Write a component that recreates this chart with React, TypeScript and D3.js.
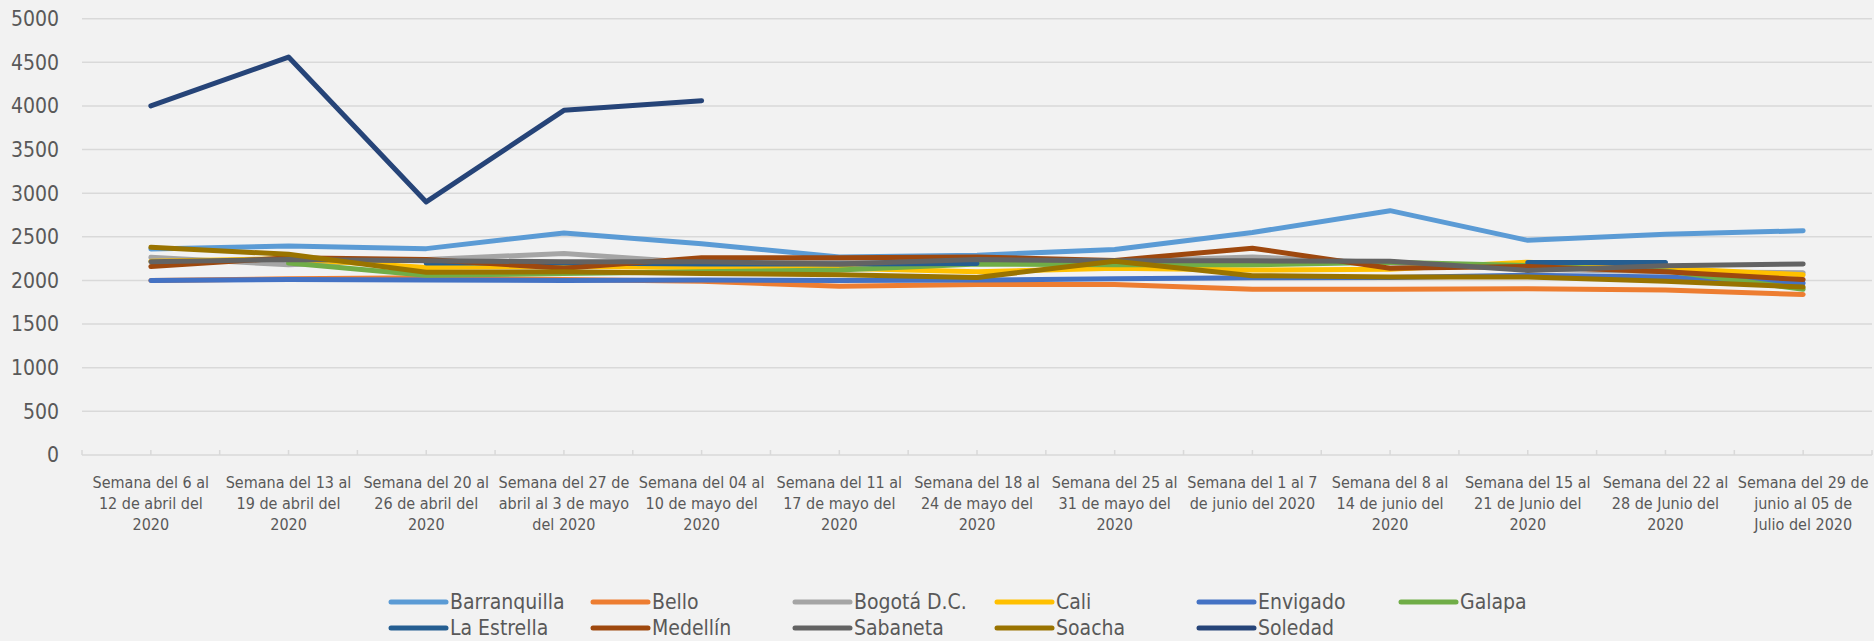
import { useEffect, useRef } from "react";
import * as d3 from "d3";

// week labels, "\n" marks the line breaks used under the axis
const weeks = [
  "Semana del 6 al\n12 de abril del\n2020",
  "Semana del 13 al\n19 de abril del\n2020",
  "Semana del 20 al\n26 de abril del\n2020",
  "Semana del 27 de\nabril al 3 de mayo\ndel 2020",
  "Semana del 04 al\n10 de mayo del\n2020",
  "Semana del 11 al\n17 de mayo del\n2020",
  "Semana del 18 al\n24 de mayo del\n2020",
  "Semana del 25 al\n31 de mayo del\n2020",
  "Semana del 1 al 7\nde junio del 2020",
  "Semana del 8 al\n14 de junio del\n2020",
  "Semana del 15 al\n21 de Junio del\n2020",
  "Semana del 22 al\n28 de Junio del\n2020",
  "Semana del 29 de\njunio al 05 de\nJulio del 2020",
];

const yTicks = [0, 500, 1000, 1500, 2000, 2500, 3000, 3500, 4000, 4500, 5000];

const barranquilla = [2360, 2395, 2365, 2545, 2420, 2270, 2290, 2355, 2550, 2800, 2460, 2530, 2570];
const bello = [2000, 2020, 2030, 2010, 1990, 1935, 1955, 1955, 1900, 1900, 1905, 1890, 1840];
const bogota = [2265, 2180, 2240, 2310, 2200, 2210, 2230, 2220, 2270, 2200, 2130, 2100, 2090];
const cali = [2220, 2250, 2150, 2160, 2150, 2140, 2100, 2140, 2120, 2130, 2210, 2140, 2065];
const envigado = [2000, 2010, 2005, 2000, 2005, 2000, 2005, 2020, 2030, 2035, 2060, 2040, 1970];
const galapa = [null, 2200, 2060, 2080, 2100, 2120, 2190, 2180, 2180, 2210, 2170, 2110, 1900];
const laEstrella = [null, null, 2200, 2200, 2190, 2190, 2195, null, null, null, 2205, 2205, null];
const medellin = [2160, 2260, 2240, 2140, 2260, 2260, 2270, 2230, 2370, 2140, 2160, 2100, 2010];
const sabaneta = [2215, 2240, 2225, 2215, 2215, 2190, 2240, 2225, 2225, 2220, 2115, 2170, 2190];
const soacha = [2380, 2300, 2095, 2100, 2080, 2065, 2035, 2220, 2055, 2040, 2040, 1990, 1925];
const soledad = [4000, 4560, 2900, 3950, 4060, null, null, null, null, null, null, null, null];

const series = [
  { name: "Barranquilla", values: barranquilla, color: "#5B9BD5" },
  { name: "Bello", values: bello, color: "#ED7D31" },
  { name: "Bogotá D.C.", values: bogota, color: "#A5A5A5" },
  { name: "Cali", values: cali, color: "#FFC000" },
  { name: "Envigado", values: envigado, color: "#4472C4" },
  { name: "Galapa", values: galapa, color: "#70AD47" },
  { name: "La Estrella", values: laEstrella, color: "#255E91" },
  { name: "Medellín", values: medellin, color: "#9E480E" },
  { name: "Sabaneta", values: sabaneta, color: "#636363" },
  { name: "Soacha", values: soacha, color: "#997300" },
  { name: "Soledad", values: soledad, color: "#264478" },
];

const FONT = '"DejaVu Sans Condensed", "DejaVu Sans", sans-serif';
const TEXT = "#595959";

const App = () => {
  const svgRef = useRef<SVGSVGElement | null>(null);

  useEffect(() => {
    const W = 1874;
    const H = 641;
    const M = { top: 18.7, right: 2, bottom: 186, left: 82 };

    const svg = d3.select(svgRef.current).attr("width", W).attr("height", H);
    svg.selectAll("*").remove();

    svg.append("rect").attr("width", W).attr("height", H).attr("fill", "#F2F2F2");

    const x = d3.scaleBand<number>().domain(d3.range(weeks.length)).range([M.left, W - M.right]);
    const y = d3.scaleLinear().domain([0, 5000]).range([H - M.bottom, M.top]);
    const cx = (i: number) => (x(i) as number) + x.bandwidth() / 2;

    // gridlines
    svg
      .append("g")
      .selectAll("line")
      .data(yTicks.filter((t) => t > 0))
      .enter()
      .append("line")
      .attr("x1", M.left)
      .attr("x2", W - M.right)
      .attr("y1", (d) => y(d))
      .attr("y2", (d) => y(d))
      .attr("stroke", "#D9D9D9")
      .attr("stroke-width", 1.5);

    // y labels
    svg
      .append("g")
      .selectAll("text")
      .data(yTicks)
      .enter()
      .append("text")
      .attr("x", 59)
      .attr("y", (d) => y(d))
      .attr("dy", "0.35em")
      .attr("text-anchor", "end")
      .attr("font-family", FONT)
      .attr("font-size", 21)
      .attr("fill", TEXT)
      .text((d) => d);

    // x axis line + ticks (every half band)
    const axisY = y(0);
    svg
      .append("line")
      .attr("x1", M.left)
      .attr("x2", W - M.right)
      .attr("y1", axisY)
      .attr("y2", axisY)
      .attr("stroke", "#D9D9D9")
      .attr("stroke-width", 1.5);

    const tickPos = d3.range(weeks.length * 2 + 1).map((k) => M.left + (k * x.bandwidth()) / 2);
    svg
      .append("g")
      .selectAll("line")
      .data(tickPos)
      .enter()
      .append("line")
      .attr("x1", (d) => d)
      .attr("x2", (d) => d)
      .attr("y1", axisY)
      .attr("y2", axisY - 5)
      .attr("stroke", "#D9D9D9")
      .attr("stroke-width", 1.5);

    // x labels
    const xl = svg.append("g");
    weeks.forEach((w, i) => {
      const t = xl
        .append("text")
        .attr("x", cx(i))
        .attr("text-anchor", "middle")
        .attr("font-family", FONT)
        .attr("font-size", 16)
        .attr("fill", TEXT);
      w.split("\n").forEach((ln, j) => {
        t.append("tspan").attr("x", cx(i)).attr("y", 488 + j * 21).text(ln);
      });
    });

    // lines
    const line = d3
      .line<number | null>()
      .defined((d) => d != null)
      .x((_, i) => cx(i))
      .y((d) => y(d as number));

    svg
      .append("g")
      .selectAll("path")
      .data(series)
      .enter()
      .append("path")
      .attr("d", (s) => line(s.values))
      .attr("fill", "none")
      .attr("stroke", (s) => s.color)
      .attr("stroke-width", 5)
      .attr("stroke-linecap", "round")
      .attr("stroke-linejoin", "round");

    // legend, 6 per row
    const legend = svg
      .append("g")
      .selectAll("g")
      .data(series)
      .enter()
      .append("g")
      .attr("transform", (_, i) => `translate(${391 + (i % 6) * 202},${602 + Math.floor(i / 6) * 26})`);

    legend
      .append("line")
      .attr("x1", 0)
      .attr("x2", 55)
      .attr("stroke", (s) => s.color)
      .attr("stroke-width", 5)
      .attr("stroke-linecap", "round");

    legend
      .append("text")
      .attr("x", 59)
      .attr("dy", "0.35em")
      .attr("font-family", FONT)
      .attr("font-size", 21)
      .attr("fill", TEXT)
      .text((s) => s.name);
  }, []);

  return <svg ref={svgRef} style={{ position: "absolute", left: 0, top: 0 }} />;
};

export default App;
